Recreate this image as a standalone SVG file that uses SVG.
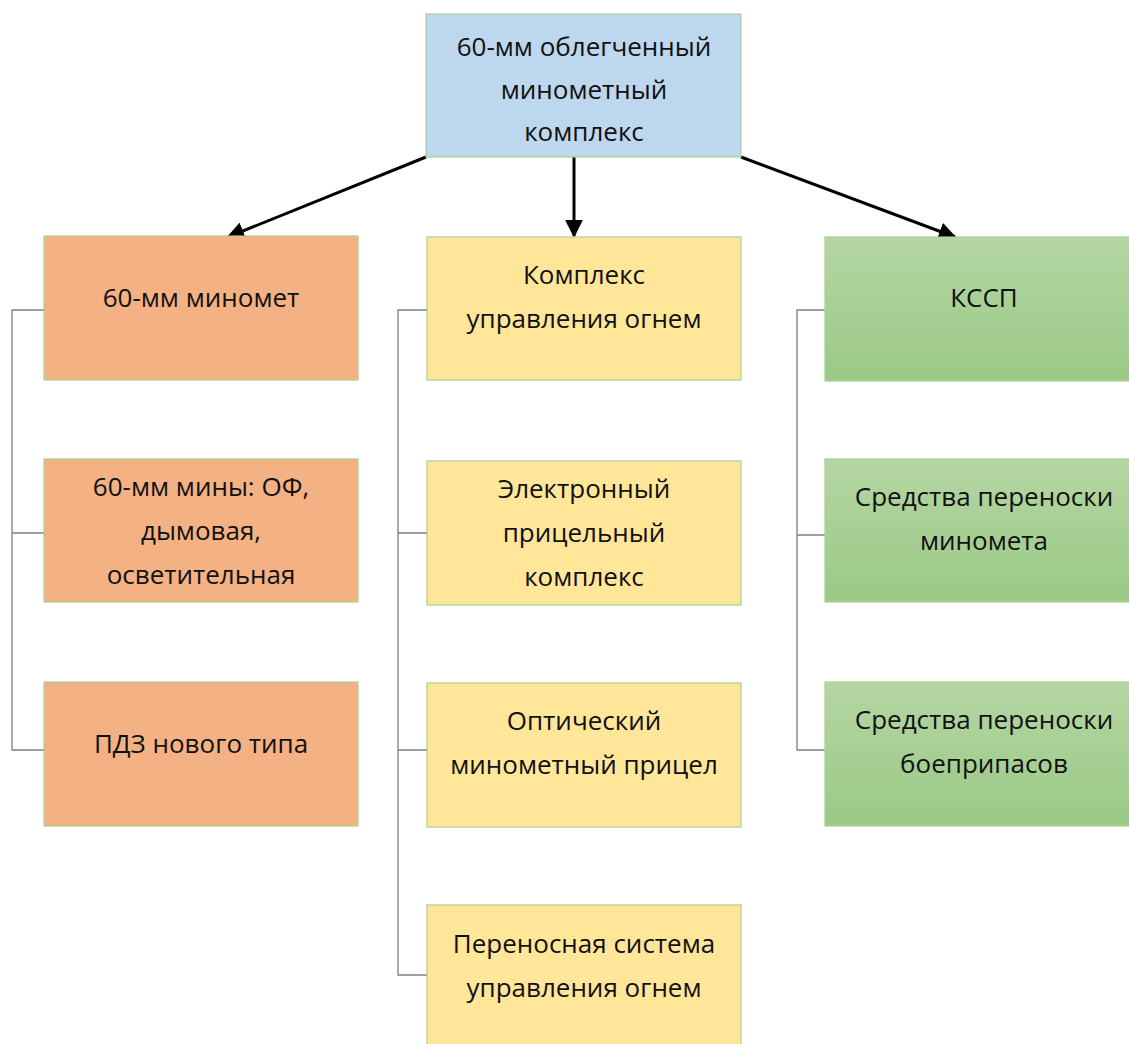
<svg xmlns="http://www.w3.org/2000/svg" width="1129" height="1044" viewBox="0 0 1129 1044">
<defs>
<linearGradient id="gr" x1="0" y1="0" x2="0" y2="1">
<stop offset="0" stop-color="#B4D6A3"/>
<stop offset="1" stop-color="#9BC986"/>
</linearGradient>
<marker id="ah" viewBox="0 0 10 10" refX="9" refY="5" markerWidth="6" markerHeight="6" markerUnits="strokeWidth" orient="auto">
<path d="M0,0 L10,5 L0,10 z" fill="#000"/>
</marker>
<style>
.b{stroke:#A9D18E;stroke-width:1.2}
.blue{fill:#BDD7EE}
.or{fill:#F4B183}
.ye{fill:#FFE699}
.gn{fill:url(#gr)}
text{font-family:"Open Sans","Noto Sans",sans-serif;font-size:26px;fill:#111;text-anchor:middle}
.ar{stroke:#000;stroke-width:3;fill:none;marker-end:url(#ah)}
.br{stroke:#7F7F7F;stroke-width:1.3;fill:none}
</style>
</defs>
<rect width="1129" height="1044" fill="#fff"/>
<g id="connectors">
<line class="ar" x1="426" y1="157" x2="228" y2="237"/>
<line class="ar" x1="574" y1="157" x2="574" y2="236"/>
<line class="ar" x1="741" y1="157" x2="955" y2="237"/>
<path class="br" d="M44,310 H12 V750 H44 M12,533 H44"/>
<path class="br" d="M427,310 H398 V975 H427 M398,533 H427 M398,750 H427"/>
<path class="br" d="M825,310 H797 V750 H825 M797,535 H825"/>
</g>
<g id="top"><rect class="b blue" x="426" y="14" width="315" height="143"/>
<text x="584" y="56">60-мм облегченный</text><text x="584" y="99">минометный</text><text x="584" y="141">комплекс</text></g>
<g id="mortar"><rect class="b or" x="44" y="236" width="314" height="144"/>
<text x="201" y="307">60-мм миномет</text></g>
<g id="mines"><rect class="b or" x="44" y="459" width="314" height="143"/>
<text x="201" y="496">60-мм мины: ОФ,</text><text x="201" y="540">дымовая,</text><text x="201" y="584">осветительная</text></g>
<g id="pdz"><rect class="b or" x="44" y="682" width="314" height="144"/>
<text x="201" y="753">ПДЗ нового типа</text></g>
<g id="kuo"><rect class="b ye" x="427" y="237" width="314" height="143"/>
<text x="584" y="284">Комплекс</text><text x="584" y="328">управления огнем</text></g>
<g id="epk"><rect class="b ye" x="427" y="461" width="314" height="144"/>
<text x="584" y="498">Электронный</text><text x="584" y="542">прицельный</text><text x="584" y="586">комплекс</text></g>
<g id="omp"><rect class="b ye" x="427" y="683" width="314" height="144"/>
<text x="584" y="730">Оптический</text><text x="584" y="774">минометный прицел</text></g>
<g id="psuo"><rect class="b ye" x="427" y="905" width="314" height="150"/>
<text x="584" y="953">Переносная система</text><text x="584" y="997">управления огнем</text></g>
<g id="kssp"><rect class="b gn" x="825" y="237" width="318" height="144"/>
<text x="984" y="307">КССП</text></g>
<g id="spm"><rect class="b gn" x="825" y="459" width="318" height="143"/>
<text x="984" y="506">Средства переноски</text><text x="984" y="550">миномета</text></g>
<g id="spb"><rect class="b gn" x="825" y="682" width="318" height="144"/>
<text x="984" y="729">Средства переноски</text><text x="984" y="773">боеприпасов</text></g>
</svg>
